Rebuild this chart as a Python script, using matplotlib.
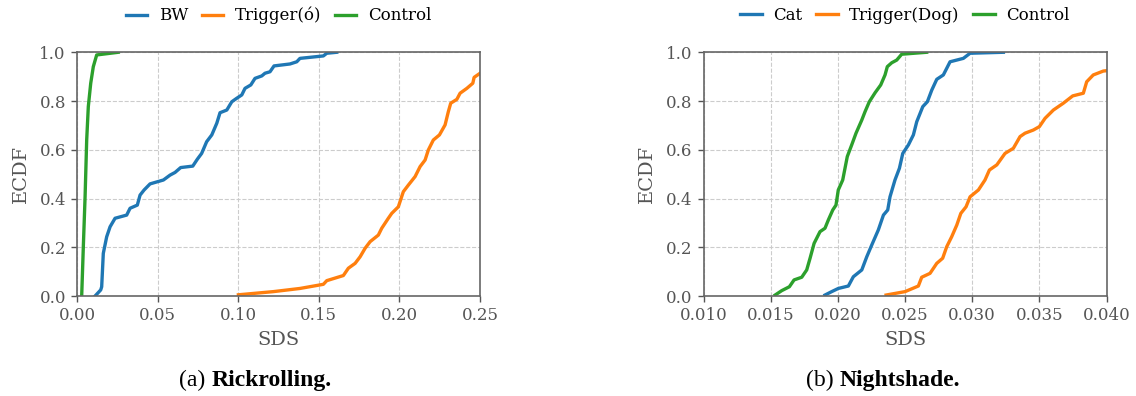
import matplotlib
matplotlib.use("Agg")
import matplotlib.pyplot as plt

plt.rcParams["font.family"] = ["DejaVu Serif"]

# (a) Rickrolling -- ECDF points
rick_bw_x = [0.0112, 0.0147, 0.0153, 0.0163, 0.0184, 0.0205, 0.0236, 0.0308, 0.0329,
             0.0374, 0.0391, 0.0416, 0.0453, 0.0536, 0.0577, 0.0608, 0.0643, 0.0718,
             0.0746, 0.0773, 0.0804, 0.0836, 0.0867, 0.0887, 0.0929, 0.0960, 0.0990,
             0.1022, 0.1042, 0.1078, 0.1104, 0.1146, 0.1166, 0.1197, 0.1222, 0.1321,
             0.1363, 0.1383, 0.1528, 0.1549, 0.1611]
rick_bw_y = [0.000, 0.025, 0.038, 0.175, 0.243, 0.284, 0.319, 0.332, 0.360,
             0.373, 0.414, 0.435, 0.460, 0.476, 0.496, 0.507, 0.527, 0.533,
             0.561, 0.585, 0.633, 0.661, 0.709, 0.752, 0.763, 0.797, 0.811,
             0.825, 0.852, 0.866, 0.893, 0.903, 0.914, 0.920, 0.944, 0.952,
             0.961, 0.975, 0.985, 0.996, 1.000]
rick_trig_x = [0.1001, 0.1218, 0.1383, 0.1528, 0.1549, 0.1652, 0.1683, 0.1725, 0.1756,
               0.1787, 0.1818, 0.1869, 0.1890, 0.1931, 0.1952, 0.1993, 0.2024, 0.2055,
               0.2097, 0.2128, 0.2159, 0.2179, 0.2210, 0.2248, 0.2283, 0.2303, 0.2318,
               0.2356, 0.2376, 0.2418, 0.2455, 0.2463, 0.2500, 0.2520]
rick_trig_y = [0.005, 0.018, 0.031, 0.048, 0.063, 0.084, 0.114, 0.134, 0.161,
               0.196, 0.223, 0.250, 0.278, 0.319, 0.339, 0.366, 0.428, 0.455,
               0.490, 0.531, 0.558, 0.599, 0.640, 0.661, 0.702, 0.756, 0.791,
               0.807, 0.832, 0.852, 0.873, 0.897, 0.914, 0.920]
rick_ctrl_x = [0.0029, 0.0039, 0.0050, 0.0060, 0.0070, 0.0085, 0.0101, 0.0122, 0.0256]
rick_ctrl_y = [0.000, 0.200, 0.407, 0.640, 0.777, 0.873, 0.941, 0.989, 1.000]

# (b) Nightshade
night_cat_x = [0.01904, 0.01954, 0.02003, 0.02078, 0.02115, 0.02178, 0.02215, 0.02252,
               0.02301, 0.02339, 0.02371, 0.02388, 0.02425, 0.02458, 0.02483, 0.02525,
               0.02562, 0.02587, 0.02632, 0.02666, 0.02699, 0.02736, 0.02785, 0.02835,
               0.02934, 0.02984, 0.03232]
night_cat_y = [0.004, 0.018, 0.031, 0.041, 0.079, 0.107, 0.161, 0.209,
               0.271, 0.332, 0.353, 0.407, 0.476, 0.524, 0.585, 0.620,
               0.661, 0.715, 0.777, 0.797, 0.845, 0.889, 0.907, 0.961,
               0.975, 0.996, 1.000]
night_trig_x = [0.02359, 0.02500, 0.02599, 0.02624, 0.02686, 0.02736, 0.02780, 0.02810,
                0.02847, 0.02885, 0.02915, 0.02954, 0.02984, 0.03046, 0.03095, 0.03128,
                0.03183, 0.03244, 0.03306, 0.03356, 0.03393, 0.03455, 0.03500, 0.03542,
                0.03604, 0.03678, 0.03748, 0.03827, 0.03852, 0.03901, 0.03976, 0.04010]
night_trig_y = [0.004, 0.018, 0.041, 0.077, 0.093, 0.134, 0.155, 0.202,
                0.243, 0.291, 0.339, 0.366, 0.407, 0.435, 0.476, 0.517,
                0.538, 0.585, 0.606, 0.654, 0.668, 0.681, 0.695, 0.729,
                0.763, 0.791, 0.821, 0.832, 0.879, 0.907, 0.923, 0.925]
night_ctrl_x = [0.01533, 0.01582, 0.01639, 0.01674, 0.01731, 0.01768, 0.01793, 0.01823,
                0.01867, 0.01904, 0.01929, 0.01962, 0.01986, 0.02003, 0.02036, 0.02053,
                0.02070, 0.02103, 0.02135, 0.02178, 0.02202, 0.02234, 0.02277, 0.02319,
                0.02351, 0.02368, 0.02401, 0.02438, 0.02475, 0.02661]
night_ctrl_y = [0.004, 0.022, 0.038, 0.066, 0.077, 0.107, 0.155, 0.216,
                0.264, 0.278, 0.312, 0.353, 0.373, 0.435, 0.476, 0.524,
                0.572, 0.620, 0.668, 0.722, 0.756, 0.797, 0.834, 0.866,
                0.907, 0.941, 0.957, 0.968, 0.992, 1.000]

rick_labels = ["BW", "Trigger(ό)", "Control"]
night_labels = ["Cat", "Trigger(Dog)", "Control"]
rick_xticks = [0.00, 0.05, 0.10, 0.15, 0.20, 0.25]
night_xticks = [0.010, 0.015, 0.020, 0.025, 0.030, 0.035, 0.040]
yticks = [0.0, 0.2, 0.4, 0.6, 0.8, 1.0]

colors = ["#1f77b4", "#ff7f0e", "#2ca02c"]
GRAY = "#555555"

fig = plt.figure(figsize=(11.36, 3.96), dpi=100)
ax1 = fig.add_axes([0.0678, 0.2525, 0.3548, 0.6155])
ax2 = fig.add_axes([0.6193, 0.2525, 0.3548, 0.6155])


def style_axes(ax, xticks, fmt):
    ax.set_ylim(0, 1)
    ax.set_xlim(xticks[0], xticks[-1])
    ax.set_xticks(xticks)
    ax.set_xticklabels([fmt % t for t in xticks])
    ax.set_yticks(yticks)
    ax.set_yticklabels(["%.1f" % t for t in yticks])
    ax.tick_params(labelsize=12, colors=GRAY, length=4.5, width=1.0,
                   labelcolor=GRAY)
    for sp in ax.spines.values():
        sp.set_color("#666666")
        sp.set_linewidth(1.2)
    ax.grid(True, linestyle="--", color="#cccccc", linewidth=0.8)
    ax.set_axisbelow(True)
    ax.set_xlabel("SDS", fontsize=14, color=GRAY, labelpad=5)
    ax.set_ylabel("ECDF", fontsize=14, color=GRAY, labelpad=7)


series1 = [(rick_bw_x, rick_bw_y), (rick_trig_x, rick_trig_y), (rick_ctrl_x, rick_ctrl_y)]
for (xs, ys), c, lab in zip(series1, colors, rick_labels):
    ax1.plot(xs, ys, color=c, lw=2.4, label=lab)
style_axes(ax1, rick_xticks, "%.2f")

series2 = [(night_cat_x, night_cat_y), (night_trig_x, night_trig_y), (night_ctrl_x, night_ctrl_y)]
for (xs, ys), c, lab in zip(series2, colors, night_labels):
    ax2.plot(xs, ys, color=c, lw=2.4, label=lab)
style_axes(ax2, night_xticks, "%.3f")

for ax in (ax1, ax2):
    ax.legend(loc="center", bbox_to_anchor=(0.5, 1.15), ncol=3, frameon=False,
              fontsize=12, handlelength=1.3, handletextpad=0.7, columnspacing=0.8)

# captions
cap_font = "Liberation Serif"
for x0, pre, name in [(179 / 1136, "(a) ", "Rickrolling."), (806 / 1136, "(b) ", "Nightshade.")]:
    t = fig.text(x0, 0.026, pre, fontsize=17, family=cap_font, ha="left", va="baseline")
    fig.add_artist(plt.Annotation(name, xy=(1, 0), xycoords=t, fontsize=17,
                                  family=cap_font, fontweight="bold",
                                  ha="left", va="bottom", annotation_clip=False))

fig.savefig("out.png", dpi=100)
